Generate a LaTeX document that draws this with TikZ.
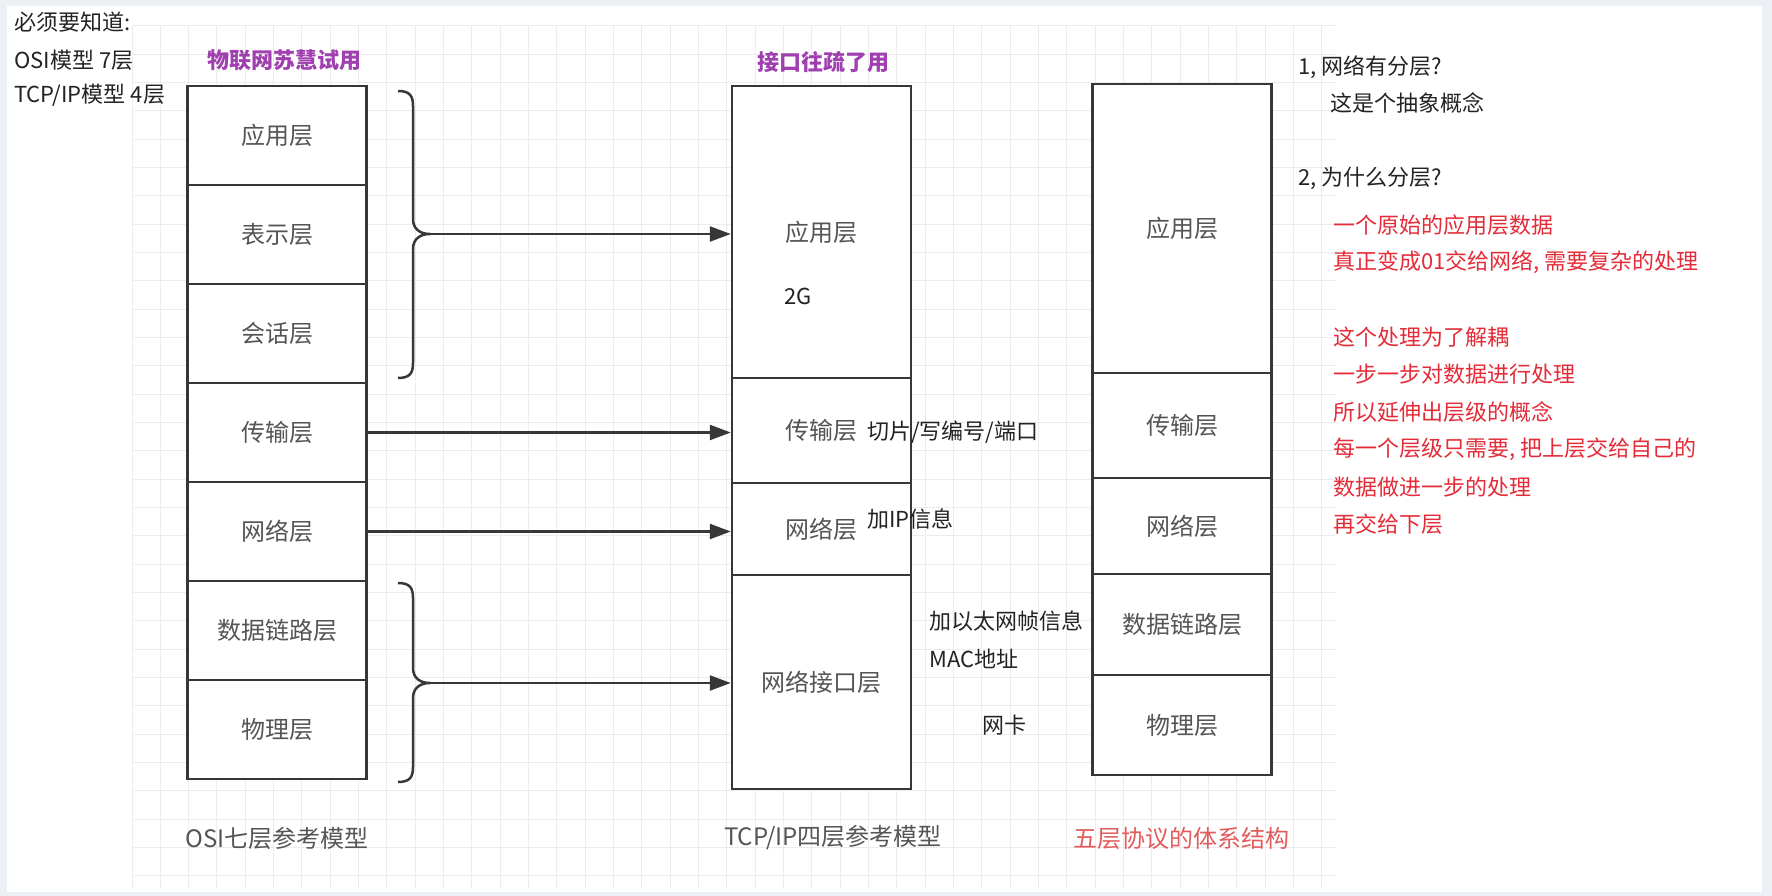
\documentclass[tikz,border=0pt]{standalone}
\usepackage{fontspec}
\setmainfont{Noto Sans CJK SC}
\usetikzlibrary{arrows.meta}
\definecolor{boxc}{RGB}{55,55,55}
\definecolor{labc}{RGB}{85,85,85}
\definecolor{txtc}{RGB}{35,35,35}
\definecolor{purp}{RGB}{160,64,176}
\definecolor{redt}{RGB}{228,44,56}
\definecolor{redb}{RGB}{226,92,92}
\definecolor{gridc}{RGB}{236,236,236}
\definecolor{backc}{RGB}{236,239,243}
\begin{document}
\begin{tikzpicture}[x=1pt,y=-1pt,
	layer/.style={draw=boxc,line width=2.5pt,fill=white,minimum width=179pt,inner sep=0pt,text=labc,font=\fontsize{24}{28}\selectfont},
	note/.style={anchor=west,inner sep=0pt,text=txtc,font=\fontsize{22}{26}\selectfont},
	rnote/.style={note,text=redt},
	title/.style={anchor=west,inner sep=0pt,text=purp,font=\fontsize{22}{26}\selectfont\bfseries},
	caption/.style={inner sep=0pt,text=labc,font=\fontsize{24}{28}\selectfont},
	link/.style={draw=boxc,line width=2.5pt},
	arr/.style={link,-{Triangle[length=21pt,width=15pt]}}]
	\useasboundingbox(0,0)rectangle(1772,896);
	\fill[backc](0,0)rectangle(1772,896);
	\fill[white](7,6)rectangle(1762,892);
	\foreach \i in {0,...,42}
		\draw[gridc,line width=1pt](132+28.33*\i,26)--(132+28.33*\i,888);
	\foreach \j in {0,...,30}
		\draw[gridc,line width=1pt](132,26+28.33*\j)--(1336,26+28.33*\j);
	\node[note](must)at(14,22){必须要知道:};
	\node[note](osi7)at(14,60){OSI模型\ 7层};
	\node[note](tcp4)at(14,95){TCP/IP模型 4层};
	\node[title](tl)at(207,60){物联网苏慧试用};
	\node[title](tr)at(757,62){接口往疏了用};
	\node[layer,minimum height=99pt](o1)at(277,135.5){应用层};
	\node[layer,minimum height=99pt](o2)at(277,234.5){表示层};
	\node[layer,minimum height=99pt](o3)at(277,333.5){会话层};
	\node[layer,minimum height=99pt](o4)at(277,432.5){传输层};
	\node[layer,minimum height=99pt](o5)at(277,531.5){网络层};
	\node[layer,minimum height=99pt](o6)at(277,630.5){数据链路层};
	\node[layer,minimum height=99pt](o7)at(277,729.5){物理层};
	\node[layer,minimum height=292pt](t1)at(821.5,232){应用层};
	\node[layer,minimum height=105pt](t2)at(821.5,430.5){传输层};
	\node[layer,minimum height=92pt](t3)at(821.5,529){网络层};
	\node[layer,minimum height=214pt](t4)at(821.5,682){网络接口层};
	\node[layer,minimum height=289pt](f1)at(1182,228.5){应用层};
	\node[layer,minimum height=105pt](f2)at(1182,425.5){传输层};
	\node[layer,minimum height=96pt](f3)at(1182,526){网络层};
	\node[layer,minimum height=101pt](f4)at(1182,624.5){数据链路层};
	\node[layer,minimum height=100pt](f5)at(1182,725){物理层};
	\coordinate(br1)at(430,234);
	\coordinate(br2)at(430,683);
	\draw[link](398,91)..controls(410,91)and(413,96)..(413,106)--(413,219)
		..controls(413,229)and(420,234)..(br1)..controls(420,234)and(413,239)..(413,249)
		--(413,363)..controls(413,373)and(410,378)..(398,378);
	\draw[link](398,583)..controls(410,583)and(413,588)..(413,598)--(413,668)
		..controls(413,678)and(420,683)..(br2)..controls(420,683)and(413,688)..(413,698)
		--(413,767)..controls(413,777)and(410,782)..(398,782);
	\draw[arr](br1)--(br1-|t1.west);
	\draw[arr](o4.east)--(o4.east-|t2.west);
	\draw[arr](o5.east)--(o5.east-|t3.west);
	\draw[arr](br2)--(br2-|t4.west);
	\node[note](g2)at(784,296){2G};
	\node[note](cut)at(867,432){切片/写编号/端口};
	\node[note](ip)at(867,519){加IP信息};
	\node[note](eth)at(929,621){加以太网帧信息};
	\node[note](mac)at(929,659){MAC地址};
	\node[note](nic)at(982,725){网卡};
	\node[caption](c1)at(277,838){OSI七层参考模型};
	\node[caption](c2)at(833,838){TCP/IP四层参考模型};
	\node[caption,text=redb](c3)at(1181,838){五层协议的体系结构};
	\node[note](q1)at(1298,67){1, 网络有分层?};
	\node[note](a1)at(1330,103){这是个抽象概念};
	\node[note](q2)at(1298,178){2, 为什么分层?};
	\node[rnote](r1)at(1333,225){一个原始的应用层数据};
	\node[rnote](r2)at(1333,262){真正变成01交给网络, 需要复杂的处理};
	\node[rnote](r3)at(1333,337){这个处理为了解耦};
	\node[rnote](r4)at(1333,374){一步一步对数据进行处理};
	\node[rnote](r5)at(1333,412){所以延伸出层级的概念};
	\node[rnote](r6)at(1333,449){每一个层级只需要, 把上层交给自己的};
	\node[rnote](r7)at(1333,487){数据做进一步的处理};
	\node[rnote](r8)at(1333,524){再交给下层};
\end{tikzpicture}
\end{document}
